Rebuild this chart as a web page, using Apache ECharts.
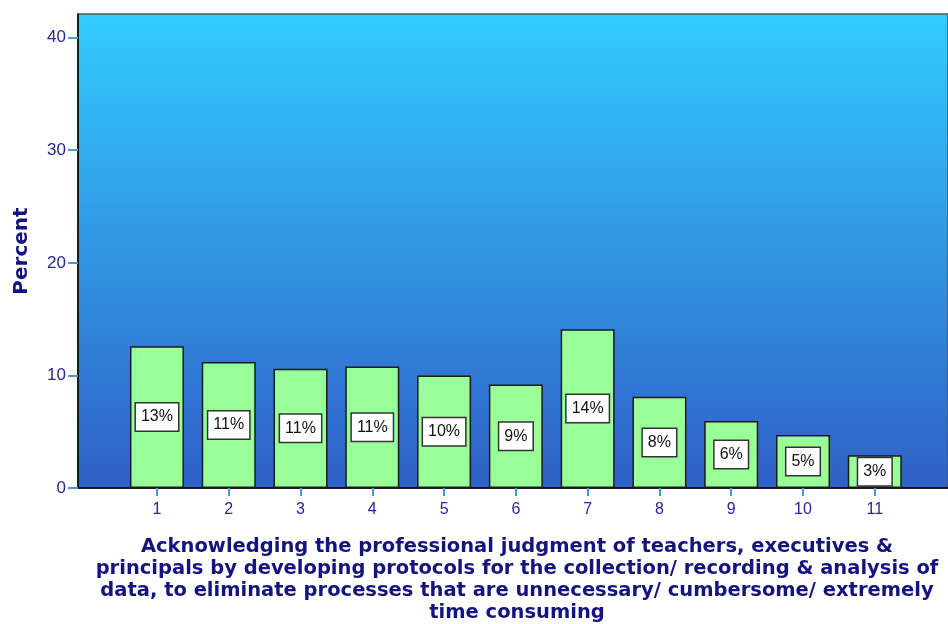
<!DOCTYPE html>
<html>
<head>
<meta charset="utf-8">
<script src="https://cdn.jsdelivr.net/npm/echarts@6/dist/echarts.min.js"></script>
<style>
html,body{margin:0;padding:0;background:#fff;}
#chart{width:948px;height:624px;}
</style>
</head>
<body>
<div id="chart"></div>
<script>
const categories = [1, 2, 3, 4, 5, 6, 7, 8, 9, 10, 11];
const percentValues = [12.6, 11.2, 10.6, 10.8, 10.0, 9.2, 14.1, 8.1, 5.95, 4.7, 2.9];
const yTicks = [0, 10, 20, 30, 40];
const xTitle = 'Acknowledging the professional judgment of teachers, executives &\nprincipals by developing protocols for the collection/ recording & analysis of\ndata, to eliminate processes that are unnecessary/ cumbersome/ extremely\ntime consuming';
const yTitle = 'Percent';

const chart = echarts.init(document.getElementById('chart'), null, {renderer: 'canvas'});
const FONT = 'Liberation Sans, Arial, sans-serif';
const TFONT = 'DejaVu Sans, Verdana, sans-serif';
const option = {
  animation: false,
  grid: {
    left: 78, right: 0, top: 14, bottom: 136,
    outerBoundsMode: 'none',
    containLabel: false,
    show: true,
    borderColor: '#555',
    borderWidth: 1.5,
    backgroundColor: {
      type: 'linear', x: 0, y: 0, x2: 0, y2: 1,
      colorStops: [
        {offset: 0, color: '#33ccff'},
        {offset: 1, color: '#2f5fc6'}
      ]
    }
  },
  xAxis: {
    type: 'value',
    min: -0.1,
    max: 12.02,
    name: xTitle,
    nameLocation: 'middle',
    nameGap: 48,
    nameTextStyle: {
      fontFamily: TFONT, fontWeight: 'bold', fontSize: 19.5, color: '#14147f',
      lineHeight: 22, align: 'center', padding: [0, 0, 0, 8]
    },
    axisLine: {show: true, onZero: false, lineStyle: {color: '#000', width: 1.5}},
    axisTick: {show: true, length: 8, customValues: categories, lineStyle: {color: '#4a9cc8', width: 2}},
    axisLabel: {customValues: categories, fontFamily: FONT, fontSize: 16, color: '#26269a', margin: 14},
    splitLine: {show: false}
  },
  yAxis: {
    type: 'value',
    min: 0,
    max: 42.1,
    name: yTitle,
    nameLocation: 'middle',
    nameGap: 46,
    nameTextStyle: {fontFamily: TFONT, fontWeight: 'bold', fontSize: 20, color: '#14147f'},
    axisLine: {show: true, onZero: false, lineStyle: {color: '#000', width: 1.5}},
    axisTick: {show: true, length: 10, customValues: yTicks, lineStyle: {color: '#4a9cc8', width: 2}},
    axisLabel: {customValues: yTicks, fontFamily: FONT, fontSize: 17, color: '#26269a', margin: 12},
    splitLine: {show: false}
  },
  series: [{
    type: 'bar',
    barWidth: 54,
    data: categories.map((c, i) => [c, percentValues[i]]),
    itemStyle: {color: '#99ff99', borderColor: '#1a1a1a', borderWidth: 1.5},
    label: {
      show: true,
      position: 'inside',
      formatter: p => Math.round(p.value[1]) + '%',
      fontFamily: FONT,
      fontSize: 16,
      color: '#111',
      backgroundColor: '#fff',
      borderColor: '#333',
      borderWidth: 1.5,
      padding: [6, 5, 5, 5]
    }
  }]
};
chart.setOption(option);
</script>
</body>
</html>
